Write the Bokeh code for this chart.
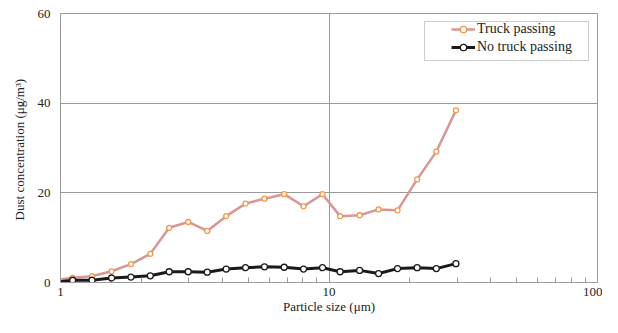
from bokeh.plotting import figure
from bokeh.models import Range1d, FixedTicker, BasicTickFormatter, Legend, LegendItem
from bokeh.embed import file_html
from bokeh.resources import INLINE

# Data (first point lies just left of the axis and is clipped)
size_um = [0.94, 1.11, 1.31, 1.55, 1.83, 2.16, 2.54, 2.99, 3.52, 4.14, 4.89, 5.75,
           6.81, 8.04, 9.46, 11.0, 13.0, 15.3, 18.0, 21.3, 25.1, 29.7]
truck = [0.45, 1.05, 1.4, 2.5, 4.1, 6.4, 12.2, 13.5, 11.5, 14.8, 17.6, 18.7,
         19.7, 17.0, 19.7, 14.8, 15.0, 16.3, 16.1, 23.0, 29.2, 38.4]
no_truck = [0.0, 0.5, 0.5, 1.0, 1.2, 1.5, 2.4, 2.4, 2.3, 3.0, 3.3, 3.5,
            3.4, 3.0, 3.3, 2.4, 2.7, 2.0, 3.1, 3.3, 3.1, 4.2]
series_labels = ["Truck passing", "No truck passing"]
x_major = [1, 10, 100]
x_minor = [2, 3, 4, 5, 6, 7, 8, 9, 20, 30, 40, 50, 60, 70, 80, 90]
y_ticks = [0, 20, 40, 60]

FONT = "Liberation Serif"
GRID = "#9a9a9a"
TEXT = "#222222"

p = figure(width=602, height=317, x_axis_type="log",
           x_range=Range1d(1, 100), y_range=Range1d(0, 60),
           output_backend="svg", toolbar_location=None,
           min_border_left=60, min_border_right=5,
           min_border_top=13, min_border_bottom=35)

p.outline_line_color = GRID
p.outline_line_width = 1

# axes
p.xaxis.ticker = FixedTicker(ticks=x_major, minor_ticks=x_minor)
p.xaxis.formatter = BasicTickFormatter()
p.yaxis.ticker = FixedTicker(ticks=y_ticks)
for ax in (p.xaxis[0], p.yaxis[0]):
    ax.axis_line_color = GRID
    ax.major_tick_in = 0
    ax.major_tick_out = 0
    ax.major_label_text_font = FONT
    ax.major_label_text_font_size = "13px"
    ax.major_label_text_color = TEXT
    ax.axis_label_text_font = FONT
    ax.axis_label_text_font_size = "13px"
    ax.axis_label_text_font_style = "normal"
    ax.axis_label_text_color = TEXT
p.xaxis.minor_tick_in = 5
p.xaxis.minor_tick_out = 0
p.xaxis.minor_tick_line_color = GRID
p.yaxis.minor_tick_line_color = None
p.xaxis.major_label_standoff = 5
p.yaxis.major_label_standoff = 10
p.xaxis.axis_label = "Particle size (\u03bcm)"
p.yaxis.axis_label = "Dust  concentration (\u03bcg/m\u00b3)"
p.xaxis.axis_label_standoff = 0
p.yaxis.axis_label_standoff = 8

p.xgrid.ticker = FixedTicker(ticks=x_major)
p.ygrid.ticker = FixedTicker(ticks=y_ticks)
p.xgrid.grid_line_color = GRID
p.ygrid.grid_line_color = GRID

# series
l1 = p.line(size_um, truck, line_color="#d99694", line_width=2.5)
m1 = p.scatter(size_um, truck, marker="circle", size=5, line_color="#f79646",
               fill_color="white", line_width=1.3)
l2 = p.line(size_um, no_truck, line_color="#1a1a1a", line_width=3)
m2 = p.scatter(size_um, no_truck, marker="circle", size=6, line_color="#1a1a1a",
               fill_color="white", line_width=1.3)

# legend frame (drawn as a separate, empty legend box)
ghost = p.line([], [], line_alpha=0)
box = Legend(items=[LegendItem(label=" ", renderers=[ghost])], location="top_right")
box.margin = 8
box.padding = 0
box.glyph_width = 1
box.glyph_height = 38
box.label_height = 38
box.label_standoff = 0
box.label_width = 162
box.border_line_color = GRID
box.border_line_width = 1
box.background_fill_color = "white"
box.label_text_font_size = "1px"
p.add_layout(box)

legend = Legend(items=[LegendItem(label=series_labels[0], renderers=[l1, m1]),
                       LegendItem(label=series_labels[1], renderers=[l2, m2])],
                location="top_right")
legend.margin = 8
legend.padding = 2
legend.spacing = 2
legend.glyph_width = 24
legend.glyph_height = 16
legend.label_height = 16
legend.label_standoff = 2
legend.label_width = 112
legend.label_text_font = FONT
legend.label_text_font_size = "14px"
legend.label_text_color = TEXT
legend.border_line_color = None
legend.background_fill_alpha = 0
p.add_layout(legend)

open("out.html", "w").write(file_html(p, INLINE))
